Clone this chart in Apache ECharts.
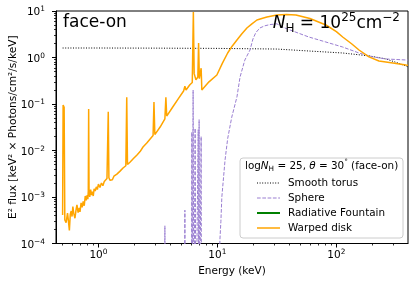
<!DOCTYPE html>
<html><head><meta charset="utf-8">
<script src="https://cdn.jsdelivr.net/npm/echarts@6/dist/echarts.min.js"></script>
<style>html,body{margin:0;padding:0;background:#fff}#c{width:416px;height:285px}</style>
</head><body><div id="c"></div>
<script>
// ---- data: [energy keV, E^2 flux] ----
const smoothTorus = [[0.5,1.6],[1,1.6],[3,1.59],[10,1.57],[31.6,1.52],[58.7,1.38],[113,1.25],[190,1.08],[261,0.93],[330,0.76],[400,0.63]];

const sphere = [[0.5,1e-6],[3.58,1e-6],[3.62,2.4e-4],[3.66,1e-6],[5.29,1e-6],[5.33,5.2e-4],[5.37,1e-6],
  [6.05,1e-6],[6.1,0.025],[6.15,1e-6],[6.25,0.2],[6.35,1e-6],[6.5,0.03],[6.6,1e-6],[6.85,1e-6],[6.9,0.028],[6.95,1e-6],
  [7.02,0.046],[7.1,1e-6],[7.25,1e-6],[7.3,0.02],[7.35,1e-6],
  [10.2,1e-6],[10.5,1.2e-4],[10.7,3e-4],[10.9,1e-3],[11.6,6.3e-3],[12.2,0.018],[13.2,0.052],[14.6,0.142],[15.5,0.38],
  [17.0,0.88],[18.8,1.45],[19.9,2.5],[21,3.4],[22.7,4.3],[25,4.8],[27.6,5.1],[31.6,5.3],[37,4.3],[45.7,3.5],
  [58.7,2.76],[81.7,2.15],[113,1.68],[155,1.25],[203,1.03],[261,0.93],[400,0.88]];

const radiativeFountain = [];

const warpedDisk = [[0.5,4.1e-4],[0.505,0.095],[0.515,0.085],[0.522,3.2e-4],[0.535,2.8e-4],[0.55,4.5e-4],[0.56,3.0e-4],
  [0.57,1.9e-4],[0.58,4.2e-4],[0.59,5e-4],[0.60,3.8e-4],[0.61,6.2e-4],[0.62,4.5e-4],[0.635,3.5e-4],[0.65,5.5e-4],
  [0.66,6.8e-4],[0.675,4.6e-4],[0.69,5.8e-4],[0.70,4.8e-4],[0.715,7.5e-4],[0.73,6e-4],[0.745,8e-4],[0.76,6.5e-4],
  [0.775,1.05e-3],[0.79,8.5e-4],[0.805,1.1e-3],[0.815,9e-4],[0.822,1.35e-3],[0.828,0.078],[0.834,1.25e-3],[0.845,1.0e-3],
  [0.86,1.45e-3],[0.875,1.1e-3],[0.89,1.3e-3],[0.905,1.05e-3],[0.92,1.5e-3],[0.94,1.35e-3],[0.96,1.65e-3],[0.98,1.45e-3],
  [1.0,1.9e-3],[1.03,1.6e-3],[1.06,2.0e-3],[1.09,1.75e-3],[1.12,2.15e-3],[1.15,2.0e-3],[1.18,2.5e-3],[1.20,2.3e-3],
  [1.21,0.068],[1.225,2.6e-3],[1.25,2.3e-3],[1.28,2.5e-3],[1.31,2.35e-3],[1.35,2.8e-3],[1.39,2.7e-3],[1.43,3.1e-3],
  [1.48,3.3e-3],[1.52,3.6e-3],[1.57,3.9e-3],[1.61,4.2e-3],[1.66,4.4e-3],[1.70,4.7e-3],[1.73,0.14],[1.755,5e-3],
  [1.84,5.6e-3],[1.97,6.7e-3],[2.11,8e-3],[2.24,9.5e-3],[2.37,0.0119],[2.55,0.0145],[2.71,0.0175],[2.88,0.021],
  [2.93,0.11],[2.98,0.022],[3.3,0.032],[3.62,0.048],[3.69,0.14],[3.75,0.055],[4.2,0.085],[4.7,0.13],[5.2,0.19],
  [5.33,0.24],[5.45,0.2],[5.87,0.26],[6.15,0.29],[6.28,9.5],[6.38,0.45],[6.6,0.33],[6.85,0.38],[6.95,2.05],[7.05,0.35],
  [7.3,0.59],[7.4,0.2],[7.55,0.22],[8.5,0.3],[9.9,0.42],[11,0.75],[12.2,1.25],[13.3,1.75],[14.6,2.38],[16,3.2],
  [17.7,4.3],[19.5,5.3],[21.5,6.4],[24,7.0],[26.1,7.4],[31.6,8.2],[38,8.4],[45.7,8.2],[60,6.9],[81.7,5.0],[100,3.6],
  [113,2.76],[135,1.95],[155,1.45],[188,1.03],[228,0.84],[298,0.76],[384,0.69],[400,0.68]];

const legendNames = ['Smooth torus', 'Sphere', 'Radiative Fountain', 'Warped disk'];
const xMajor = [1, 10, 100];
const xMinor = [0.5, 0.6, 0.7, 0.8, 0.9, 2, 3, 4, 5, 6, 7, 8, 9, 20, 30, 40, 50, 60, 70, 80, 90, 200, 300];
const yMajor = [1e-4, 1e-3, 1e-2, 1e-1, 1, 10];
const yMinor = [];
[1e-4, 1e-3, 1e-2, 1e-1, 1].forEach(d => { for (let k = 2; k <= 9; k++) yMinor.push(+(d * k).toPrecision(3)); });

const FONT = 'DejaVu Sans';
const styles = {
  'Smooth torus': { color: '#000', width: 1, type: [1, 1.6] },
  'Sphere': { color: '#9a7fd1', width: 1, type: [3.7, 1.6] },
  'Radiative Fountain': { color: '#008000', width: 2, type: 'solid' },
  'Warped disk': { color: '#ffa500', width: 1.5, type: 'solid' }
};
const seriesData = { 'Smooth torus': smoothTorus, 'Sphere': sphere, 'Radiative Fountain': radiativeFountain, 'Warped disk': warpedDisk };

const supRich = {
  b: { fontSize: 10.5, color: '#000', fontFamily: FONT, verticalAlign: 'bottom', lineHeight: 14 },
  s: { fontSize: 7.4, color: '#000', fontFamily: FONT, verticalAlign: 'bottom', lineHeight: 14, padding: [0, 0, 5, 0] }
};
const fmt = v => {
  const e = Math.round(Math.log10(v));
  return '{b|10}{s|' + (e < 0 ? '\u2212' + (-e) : e) + '}';
};

const chart = echarts.init(document.getElementById('c'), null, { renderer: 'canvas' });
const baseX = { type: 'log', min: 0.44, max: 400, splitLine: { show: false }, gridIndex: 0, position: 'bottom' };
const baseY = { type: 'log', min: 1e-4, max: 10, splitLine: { show: false }, gridIndex: 0, position: 'left' };

// legend drawn as graphic
const legendGraphics = [];
legendNames.forEach((n, i) => {
  const y = 183 + i * 15;
  const s = styles[n];
  legendGraphics.push({ type: 'line', z: 6, shape: { x1: 257, y1: y, x2: 280, y2: y },
    style: { stroke: s.color, lineWidth: s.width, lineDash: s.type === 'solid' ? null : s.type } });
  legendGraphics.push({ type: 'text', z: 6, x: 288, y: y,
    style: { text: n, fontSize: 10.4, fontFamily: FONT, fill: '#000', verticalAlign: 'middle', align: 'left' } });
});

chart.setOption({
  animation: false,
  backgroundColor: '#fff',
  grid: { left: 56, right: 8, top: 11, bottom: 41.5, show: true, borderColor: '#000', borderWidth: 1, backgroundColor: '#fff',
          containLabel: false, outerBoundsMode: 'none' },
  xAxis: [
    Object.assign({}, baseX, {
      name: 'Energy (keV)', nameLocation: 'middle', nameGap: 22, nameMoveOverlap: false,
      nameTextStyle: { fontSize: 10.5, color: '#000', fontFamily: FONT },
      axisLine: { show: true, lineStyle: { color: '#000', width: 1 } },
      axisTick: { show: true, length: 4, lineStyle: { color: '#000' }, customValues: xMajor },
      axisLabel: { show: true, margin: 3, formatter: fmt, rich: supRich, customValues: xMajor }
    }),
    Object.assign({}, baseX, {
      axisLine: { show: false },
      axisTick: { show: true, length: 2, lineStyle: { color: '#000', width: 0.8 }, customValues: xMinor },
      axisLabel: { show: false }
    })
  ],
  yAxis: [
    Object.assign({}, baseY, {
      name: 'E\u00b2 flux [keV\u00b2 \u00d7 Photons/cm\u00b2/s/keV]', nameLocation: 'middle', nameGap: 37, nameMoveOverlap: false,
      nameTextStyle: { fontSize: 10.6, color: '#000', fontFamily: FONT },
      axisLine: { show: true, lineStyle: { color: '#000', width: 1 } },
      axisTick: { show: true, length: 4, lineStyle: { color: '#000' }, customValues: yMajor },
      axisLabel: { show: true, margin: 11, formatter: fmt, rich: supRich, customValues: yMajor }
    }),
    Object.assign({}, baseY, {
      axisLine: { show: false },
      axisTick: { show: true, length: 2, lineStyle: { color: '#000', width: 0.8 }, customValues: yMinor },
      axisLabel: { show: false }
    })
  ],
  series: legendNames.map(n => ({
    name: n, type: 'line', data: seriesData[n], showSymbol: false, symbol: 'none', clip: true,
    lineStyle: { color: styles[n].color, width: styles[n].width, type: styles[n].type },
    itemStyle: { color: styles[n].color }
  })),
  graphic: [
    { type: 'rect', shape: { x: 240, y: 158, width: 163, height: 80, r: 3 }, z: 5,
      style: { fill: 'rgba(255,255,255,0.8)', stroke: '#cccccc', lineWidth: 1 } },
    { type: 'text', left: 245, top: 159, z: 6,
      style: {
        text: '{a|log}{i|N}{sub|H}{a| = 25, }{i|\u03b8}{a| = 30}{sup|\u00b0}{a| (face-on)}',
        rich: {
          a: { fontSize: 10.4, fontFamily: FONT, fill: '#000', verticalAlign: 'bottom', lineHeight: 15 },
          i: { fontSize: 10.4, fontFamily: FONT, fontStyle: 'italic', fill: '#000', verticalAlign: 'bottom', lineHeight: 15 },
          sub: { fontSize: 7.3, fontFamily: FONT, fill: '#000', verticalAlign: 'bottom', lineHeight: 15, padding: [0, 0, -2, 0] },
          sup: { fontSize: 7.3, fontFamily: FONT, fill: '#000', verticalAlign: 'bottom', lineHeight: 15, padding: [0, 0, 5, 0] }
        }
      } },
    { type: 'text', left: 63, top: 14, z: 6,
      style: { text: 'face-on', fontSize: 17, fontFamily: FONT, fill: '#000' } },
    { type: 'text', right: 16, top: 12, z: 6,
      style: {
        text: '{i|N}{sub|H}{a| = 10}{sup|25}{a|cm}{sup|\u22122}',
        rich: {
          a: { fontSize: 17, fontFamily: FONT, fill: '#000', verticalAlign: 'bottom', lineHeight: 24 },
          i: { fontSize: 17, fontFamily: FONT, fontStyle: 'italic', fill: '#000', verticalAlign: 'bottom', lineHeight: 24 },
          sub: { fontSize: 12, fontFamily: FONT, fill: '#000', verticalAlign: 'bottom', lineHeight: 24, padding: [0, 0, -3, 0] },
          sup: { fontSize: 12, fontFamily: FONT, fill: '#000', verticalAlign: 'bottom', lineHeight: 24, padding: [0, 0, 8, 0] }
        }
      } }
  ].concat(legendGraphics)
});
</script>
</body></html>
